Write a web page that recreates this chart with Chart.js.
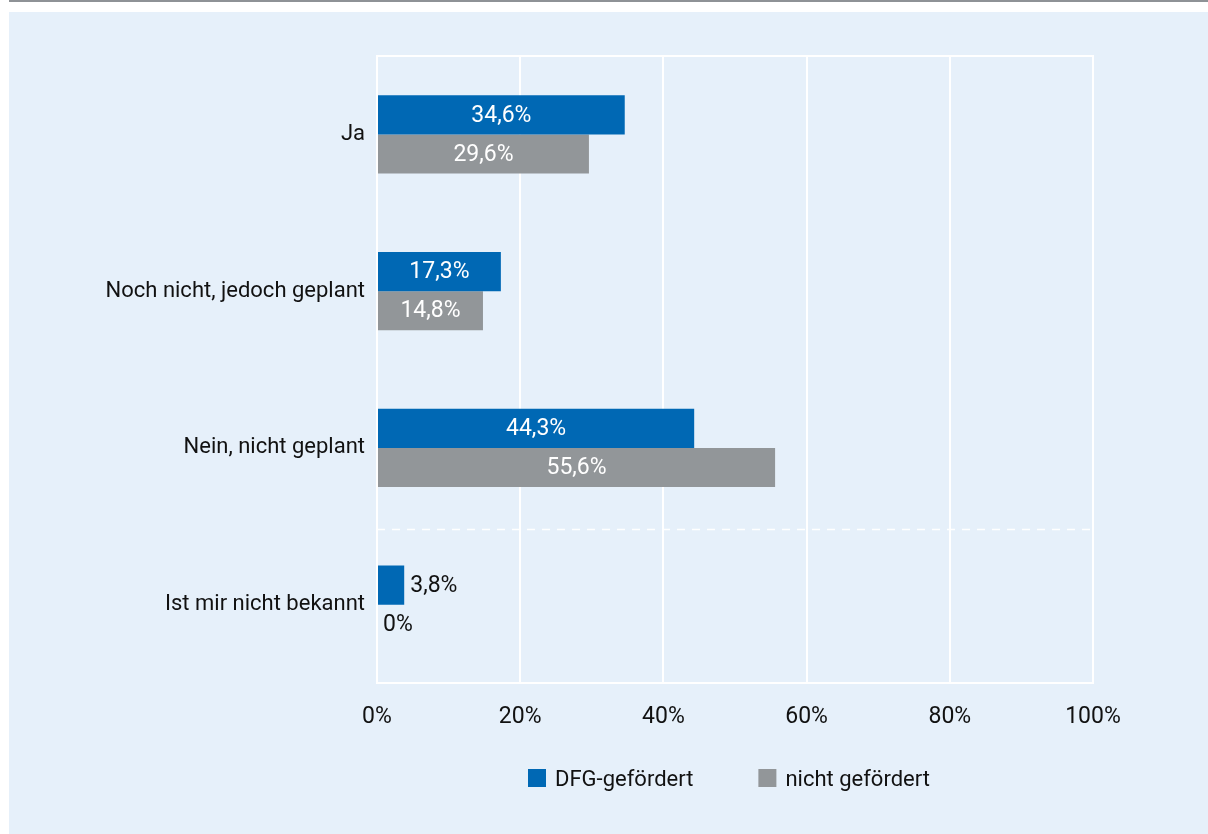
<!DOCTYPE html>
<html lang="de">
<head>
<meta charset="utf-8">
<title>Umfrage</title>
<script src="https://cdn.jsdelivr.net/npm/chart.js@4.4.1/dist/chart.umd.min.js"></script>
<style>
  html, body { margin: 0; padding: 0; background: #fff; }
  #wrap { width: 1208px; height: 834px; }
</style>
</head>
<body>
<div id="wrap"><canvas id="chart"></canvas></div>
<script>
const categories = ['Ja', 'Noch nicht, jedoch geplant', 'Nein, nicht geplant', 'Ist mir nicht bekannt'];
const seriesNames = ['DFG-gefördert', 'nicht gefördert'];
const dfgValues = [34.6, 17.3, 44.3, 3.8];
const otherValues = [29.6, 14.8, 55.6, 0];
const tickStep = 20;
const tickMax = 100;

const FONT = "Roboto, 'Liberation Sans', sans-serif";
const FONT_SIZE = 23;
const LABEL_SIZE = 22;
const TEXT = '#111';
const BLUE = '#0068b4';
const GREY = '#929699';
const PANEL = '#e6f0fa';

function fmt(v) {
  return (v === 0 ? '0' : v.toFixed(1).replace('.', ',')) + '%';
}

// page background, grey rule at the top and light blue panel
const panelBg = {
  id: 'panelBg',
  beforeDraw(chart) {
    const { ctx, width, height } = chart;
    ctx.save();
    ctx.fillStyle = '#fff';
    ctx.fillRect(0, 0, width, height);
    ctx.fillStyle = '#8e9296';
    ctx.fillRect(9, 0, width - 9, 2);
    ctx.fillStyle = PANEL;
    ctx.fillRect(9, 12, width - 9, height - 12);
    ctx.restore();
  }
};

// top edge of the plot frame and the dashed separator before the last category
const frameLines = {
  id: 'frameLines',
  beforeDatasetsDraw(chart) {
    const { ctx, chartArea: a, scales } = chart;
    ctx.save();
    ctx.strokeStyle = '#fff';
    ctx.lineWidth = 2;
    ctx.beginPath();
    ctx.moveTo(a.left - 1, a.top);
    ctx.lineTo(a.right + 1, a.top);
    ctx.stroke();
    const ySep = Math.round(scales.y.getPixelForValue(2.5)) + 3.5;
    ctx.lineWidth = 1.5;
    ctx.setLineDash([8, 7]);
    ctx.beginPath();
    ctx.moveTo(a.left, ySep);
    ctx.lineTo(a.right, ySep);
    ctx.stroke();
    ctx.restore();
  }
};

// value labels: white inside the bar when it fits, dark next to it otherwise
const barLabels = {
  id: 'barLabels',
  afterDatasetsDraw(chart) {
    const { ctx } = chart;
    ctx.save();
    ctx.font = FONT_SIZE + 'px ' + FONT;
    ctx.textBaseline = 'middle';
    chart.data.datasets.forEach((ds, di) => {
      const meta = chart.getDatasetMeta(di);
      meta.data.forEach((bar, i) => {
        const txt = fmt(ds.data[i]);
        const w = ctx.measureText(txt).width;
        const barW = bar.x - bar.base;
        if (barW > w + 10) {
          ctx.fillStyle = '#fff';
          ctx.textAlign = 'center';
          ctx.fillText(txt, (bar.x + bar.base) / 2, bar.y + 1);
        } else {
          ctx.fillStyle = TEXT;
          ctx.textAlign = 'left';
          ctx.fillText(txt, bar.x + 6, bar.y + 1);
        }
      });
    });
    ctx.restore();
  }
};

// one-row legend with square swatches under the axis
const legendRow = {
  id: 'legendRow',
  afterDraw(chart) {
    const { ctx, chartArea: a } = chart;
    const box = 18, textGap = 9, itemGap = 65, yMid = 778;
    ctx.save();
    ctx.font = LABEL_SIZE + 'px ' + FONT;
    ctx.textBaseline = 'middle';
    ctx.textAlign = 'left';
    const items = chart.data.datasets.map(ds => ({
      text: ds.label,
      color: ds.backgroundColor,
      w: ctx.measureText(ds.label).width
    }));
    const total = items.reduce((s, it) => s + box + textGap + it.w, 0) + itemGap * (items.length - 1);
    let x = Math.round((a.left + a.right) / 2 - total / 2 - 6);
    items.forEach(it => {
      ctx.fillStyle = it.color;
      ctx.fillRect(x, yMid - box / 2, box, box);
      ctx.fillStyle = TEXT;
      ctx.fillText(it.text, x + box + textGap, yMid + 2);
      x += box + textGap + it.w + itemGap;
    });
    ctx.restore();
  }
};

new Chart(document.getElementById('chart'), {
  type: 'bar',
  data: {
    labels: categories,
    datasets: [
      { label: seriesNames[0], data: dfgValues, backgroundColor: BLUE },
      { label: seriesNames[1], data: otherValues, backgroundColor: GREY }
    ]
  },
  options: {
    indexAxis: 'y',
    responsive: true,
    maintainAspectRatio: false,
    animation: false,
    datasets: {
      bar: { categoryPercentage: 0.5, barPercentage: 1.0, borderWidth: 0 }
    },
    layout: { padding: { top: 56, right: 115, bottom: 101, left: 0 } },
    scales: {
      x: {
        type: 'linear',
        min: 0,
        max: tickMax,
        ticks: {
          stepSize: tickStep,
          callback: v => v + '%',
          color: TEXT,
          font: { family: FONT, size: FONT_SIZE },
          padding: 20
        },
        grid: { color: '#fff', lineWidth: 2, drawTicks: false },
        border: { color: '#fff', width: 2 },
        afterFit(scale) { scale.height = 50; }
      },
      y: {
        ticks: {
          color: TEXT,
          font: { family: FONT, size: LABEL_SIZE },
          padding: 12
        },
        grid: { display: false, drawTicks: false },
        border: { color: '#fff', width: 2 },
        afterFit(scale) { scale.width = 377; }
      }
    },
    plugins: {
      legend: { display: false },
      tooltip: { enabled: false }
    }
  },
  plugins: [panelBg, frameLines, barLabels, legendRow]
});
</script>
</body>
</html>
